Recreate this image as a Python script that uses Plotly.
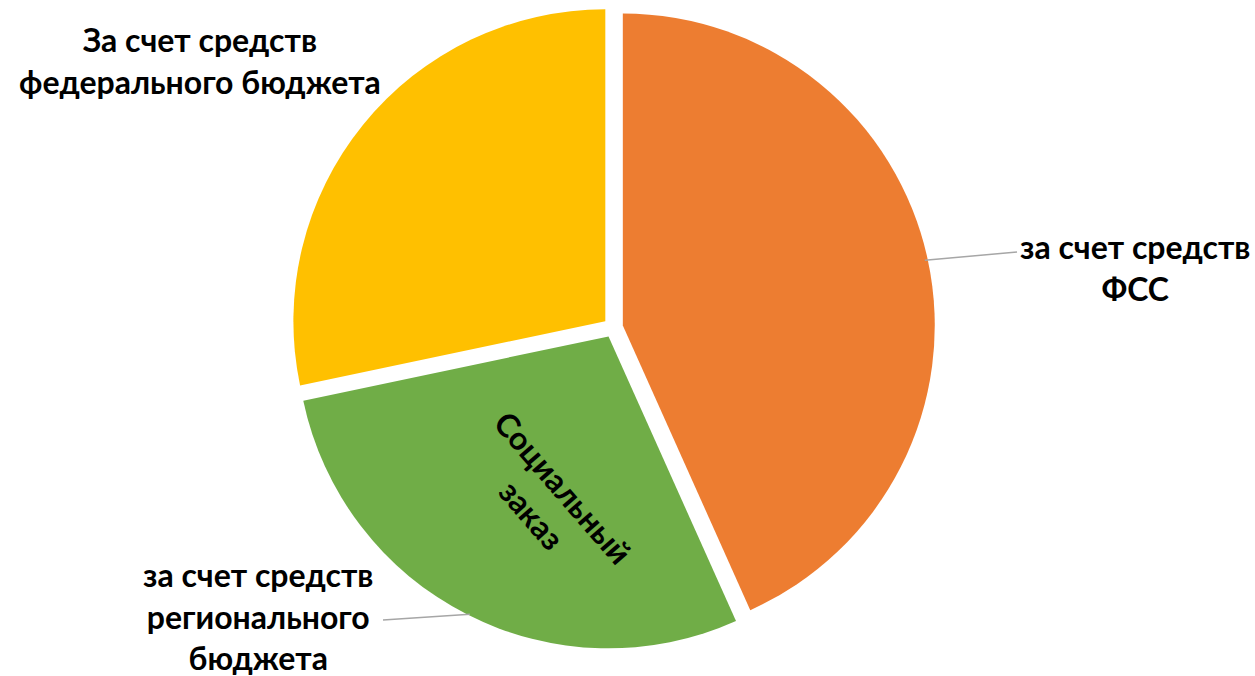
import math
import plotly.graph_objects as go

# ---- data ----
labels = ["за счет средств ФСС",
          "за счет средств регионального бюджета",
          "За счет средств федерального бюджета"]
values = [43.3, 28.4, 28.3]
colors = ["#ED7D31", "#70AD47", "#FFC000"]
label_texts = ["за счет средств<br>ФСС",
               "за счет средств<br>регионального<br>бюджета",
               "За счет средств<br>федерального бюджета"]
inner_text = "Социальный<br>заказ"

# ---- layout constants ----
W, H = 1255, 676
pull = 0.032
dom_x = [0.232, 0.745]
dom_y = [0.039, 0.992]
FONT = "Lato, 'Noto Sans', sans-serif"
FS = 32

fig = go.Figure(go.Pie(
    labels=labels, values=values, sort=False, direction="clockwise", rotation=0,
    marker=dict(colors=colors, line=dict(width=0)),
    pull=[pull] * len(values), textinfo="none", hoverinfo="label+percent",
    showlegend=False, domain=dict(x=dom_x, y=dom_y),
))

# pie geometry (pixels) for leader lines
bw = (dom_x[1] - dom_x[0]) * W
bh = (dom_y[1] - dom_y[0]) * H
r = min(bw, bh) / (2 * (1 + pull))
cx = (dom_x[0] + dom_x[1]) / 2 * W
cy = H - (dom_y[0] + dom_y[1]) / 2 * H
total = sum(values)
cum = 0
mids = []
for v in values:
    mids.append((cum + v / 2) / total * 360)
    cum += v

def edge_point(i):
    a = math.radians(mids[i])
    dx, dy = math.sin(a), -math.cos(a)
    px = cx + pull * r * dx + r * dx
    py = cy + pull * r * dy + r * dy
    return px, py

def to_paper(px, py):
    return px / W, 1 - py / H

shapes = []
# leader line: ФСС
x0, y0 = edge_point(0)
x0p, y0p = to_paper(x0 - 3, y0)
x1p, y1p = to_paper(1017, 252)
shapes.append(dict(type="line", xref="paper", yref="paper", x0=x0p, y0=y0p, x1=x1p, y1=y1p,
                   line=dict(color="#A6A6A6", width=1.5)))
# leader line: regional
x0, y0 = edge_point(1)
x0p, y0p = to_paper(x0 + 3, y0)
x1p, y1p = to_paper(383, 620)
shapes.append(dict(type="line", xref="paper", yref="paper", x0=x0p, y0=y0p, x1=x1p, y1=y1p,
                   line=dict(color="#A6A6A6", width=1.5)))

font = dict(family=FONT, size=FS, color="#000000", weight="bold")
label_pos = [(1135, 267), (258, 616), (200, 61)]
annotations = []
for t, (px, py) in zip(label_texts, label_pos):
    xp, yp = to_paper(px, py)
    annotations.append(dict(text=t, x=xp, y=yp, xref="paper", yref="paper",
                            showarrow=False, font=font, align="center",
                            xanchor="center", yanchor="middle"))
xp, yp = to_paper(547, 501)
annotations.append(dict(text=inner_text, x=xp, y=yp, xref="paper", yref="paper",
                        showarrow=False, font=font, align="center", textangle=49,
                        xanchor="center", yanchor="middle"))

fig.update_layout(
    width=W, height=H, margin=dict(l=0, r=0, t=0, b=0),
    paper_bgcolor="white", plot_bgcolor="white",
    shapes=shapes, annotations=annotations, showlegend=False,
)
fig.write_html("out.html", config={"displayModeBar": False},
               post_script="document.body.style.margin='0';")
